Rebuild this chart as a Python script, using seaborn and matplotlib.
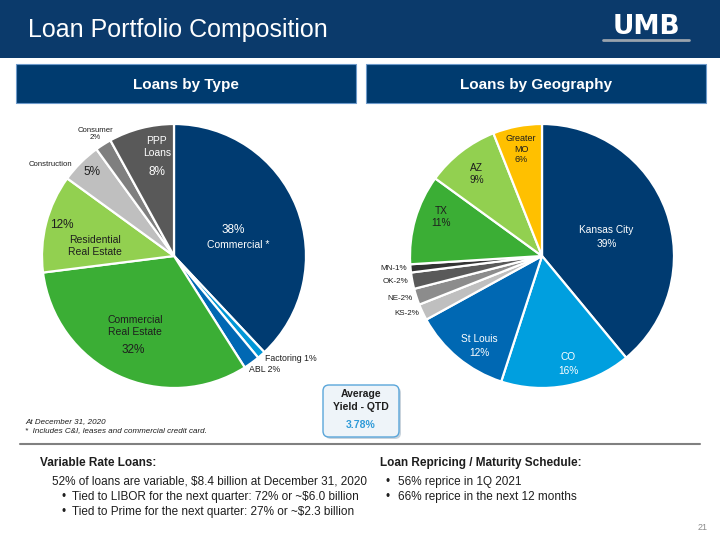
import numpy as np
import matplotlib.pyplot as plt
import seaborn as sns
from matplotlib.patches import Rectangle, FancyBboxPatch

sns.set_theme(style='white')
plt.rcParams['font.family'] = ['Liberation Sans', 'DejaVu Sans']

# Loans by type (clockwise from 12 o'clock)
type_names = ['Commercial *', 'Factoring', 'ABL', 'Commercial\nReal Estate', 'Residential\nReal Estate',
              'Construction', 'Consumer', 'PPP\nLoans']
type_values = [38, 1, 2, 32, 12, 5, 2, 8]
type_colors = ['#003b71', '#0096d6', '#0068b3', '#3bae35', '#92d050', '#bfbfbf', '#7f7f7f', '#595959']

# Loans by geography (clockwise from 12 o'clock)
geo_names = ['Kansas City', 'CO', 'St Louis', 'KS', 'NE', 'OK', 'MN', 'TX', 'AZ', 'Greater\nMO']
geo_values = [39, 16, 12, 2, 2, 2, 1, 11, 9, 6]
geo_colors = ['#003b71', '#009fdf', '#0068b3', '#bfbfbf', '#8c8c8c', '#595959', '#333333',
              '#3bae35', '#92d050', '#ffc000']

avg_yield = '3.78%'

NAVY = '#0b3a6b'
DARK = '#1e1e1e'

fig = plt.figure(figsize=(7.2, 5.4), dpi=100)

# background layer in pixel coordinates
bg = fig.add_axes([0, 0, 1, 1])
bg.set_xlim(0, 720)
bg.set_ylim(540, 0)
bg.axis('off')

bg.add_patch(Rectangle((0, 0), 720, 58, color=NAVY, lw=0))
bg.text(28, 30, 'Loan Portfolio Composition', color='white', fontsize=18, va='center')
bg.text(646, 27, 'UMB', color='white', fontsize=19, fontweight='bold', ha='center', va='center',
        family='DejaVu Sans')
bg.plot([603, 689], [40, 40], color='#9aa3ad', lw=2)

for x0, title in [(16, 'Loans by Type'), (366, 'Loans by Geography')]:
    bg.add_patch(Rectangle((x0, 64), 340, 39, fc='#003b6f', ec='#6d9acb', lw=0.8))
    bg.text(x0 + 170, 84.5, title, color='white', fontsize=11, fontweight='bold', ha='center', va='center')


def put(ax, wedge, text, r, dang=0, color=DARK, size=7.5, ha='center', **kw):
    a = np.deg2rad((wedge.theta1 + wedge.theta2) / 2 + dang)
    ax.text(r * np.cos(a), r * np.sin(a), text, ha=ha, va='center', color=color,
            fontsize=size, **kw)


def draw_pie(rect, values, colors):
    ax = fig.add_axes(rect)
    wedges, _ = ax.pie(values, colors=colors, startangle=90, counterclock=False,
                       wedgeprops=dict(edgecolor='white', linewidth=1.6))
    ax.set_xlim(-1, 1)
    ax.set_ylim(-1, 1)
    ax.axis('off')
    ax.patch.set_visible(False)
    return ax, wedges


# left pie
axL, wL = draw_pie([42 / 720, 152 / 540, 264 / 720, 264 / 540], type_values, type_colors)
v = type_values
put(axL, wL[0], f'{v[0]}%', 0.49, 2, color='white', size=8.5)
put(axL, wL[0], type_names[0], 0.49, -12, color='white')
put(axL, wL[1], f'{type_names[1]} {v[1]}%', 1.04, 0, size=6.3, ha='left')
put(axL, wL[2], f'{type_names[2]} {v[2]}%', 1.03, -2.4, size=6.3, ha='left')
put(axL, wL[3], type_names[3], 0.607, -3.9, linespacing=1.3)
put(axL, wL[3], f'{v[3]}%', 0.777, 1.6, size=8.5)
put(axL, wL[4], f'{v[4]}%', 0.88, -1.1, size=8.5)
put(axL, wL[4], type_names[4], 0.603, 7.2, linespacing=1.3)
put(axL, wL[5], f'{v[5]}%', 0.889, -0.7, size=8.5)
put(axL, wL[5], type_names[5], 1.165, 8.7, size=5.6)
put(axL, wL[6], f'{type_names[6]}\n{v[6]}%', 1.10, 0.5, size=5.6, linespacing=1.15)
put(axL, wL[7], type_names[7], 0.836, -5.5, color='white', linespacing=1.3)
put(axL, wL[7], f'{v[7]}%', 0.649, -3, color='white', size=8.5)

# right pie
axR, wR = draw_pie([410 / 720, 152 / 540, 264 / 720, 264 / 540], geo_values, geo_colors)
g = geo_values
put(axR, wR[0], f'{geo_names[0]}\n{g[0]}%', 0.51, -3.3, color='white', size=7.3, linespacing=1.5)
put(axR, wR[1], f'{geo_names[1]}\n{g[1]}%', 0.841, 2.7, color='white', size=7.3, linespacing=1.5)
put(axR, wR[2], f'{geo_names[2]}\n{g[2]}%', 0.832, 4.6, color='white', size=7.3, linespacing=1.4)
for i in range(3, 7):
    put(axR, wR[i], f'{geo_names[i]}-{g[i]}%', 1.03, 0, size=5.8, ha='right')
put(axR, wR[7], f'{geo_names[7]}\n{g[7]}%', 0.82, -4.9, size=7.3, linespacing=1.3)
put(axR, wR[8], f'{geo_names[8]}\n{g[8]}%', 0.793, 0.6, size=7.3, linespacing=1.3)
put(axR, wR[9], f'{geo_names[9]}\n{g[9]}%', 0.826, 0.3, size=6.5, linespacing=1.2)

# average yield box (with a soft shadow)
bg.add_patch(FancyBboxPatch((325, 387), 76, 52, boxstyle='round,pad=0,rounding_size=6',
                            fc='#c9d3dc', ec='none', lw=0))
bg.add_patch(FancyBboxPatch((323, 385), 76, 52, boxstyle='round,pad=0,rounding_size=6',
                            fc='#eef4f9', ec='#5aa6da', lw=1))
bg.text(361, 394, 'Average', fontsize=7.5, fontweight='bold', ha='center', va='center', color=DARK)
bg.text(361, 407, 'Yield - QTD', fontsize=7.5, fontweight='bold', ha='center', va='center', color=DARK)
bg.text(361, 425, avg_yield, fontsize=7.5, fontweight='bold', ha='center', va='center', color='#2e9ad8')

# footnotes and divider
bg.text(25, 422, 'At December 31, 2020', fontsize=5.8, style='italic', va='center', color=DARK)
bg.text(25, 431, '*  Includes C&I, leases and commercial credit card.', fontsize=5.8, style='italic',
        va='center', color=DARK)
bg.plot([20, 700], [444, 444], color='#808080', lw=1.5)

# bottom text
bg.text(40, 463, 'Variable Rate Loans:', fontsize=8.5, fontweight='bold', va='center', color=DARK)
bg.text(52, 482, '52% of loans are variable, $8.4 billion at December 31, 2020', fontsize=8.5,
        va='center', color=DARK)
for y, line in [(497, 'Tied to LIBOR for the next quarter: 72% or ~$6.0 billion'),
                (512, 'Tied to Prime for the next quarter: 27% or ~$2.3 billion')]:
    bg.text(62, y, '•', fontsize=8.5, va='center', color=DARK)
    bg.text(72, y, line, fontsize=8.5, va='center', color=DARK)

bg.text(380, 463, 'Loan Repricing / Maturity Schedule:', fontsize=8.5, fontweight='bold', va='center',
        color=DARK)
for y, line in [(482, '56% reprice in 1Q 2021'), (497, '66% reprice in the next 12 months')]:
    bg.text(386, y, '•', fontsize=8.5, va='center', color=DARK)
    bg.text(398, y, line, fontsize=8.5, va='center', color=DARK)

bg.text(703, 527, '21', fontsize=6.5, ha='center', va='center', color='#8c8c8c')

plt.savefig('out.png', dpi=100)
